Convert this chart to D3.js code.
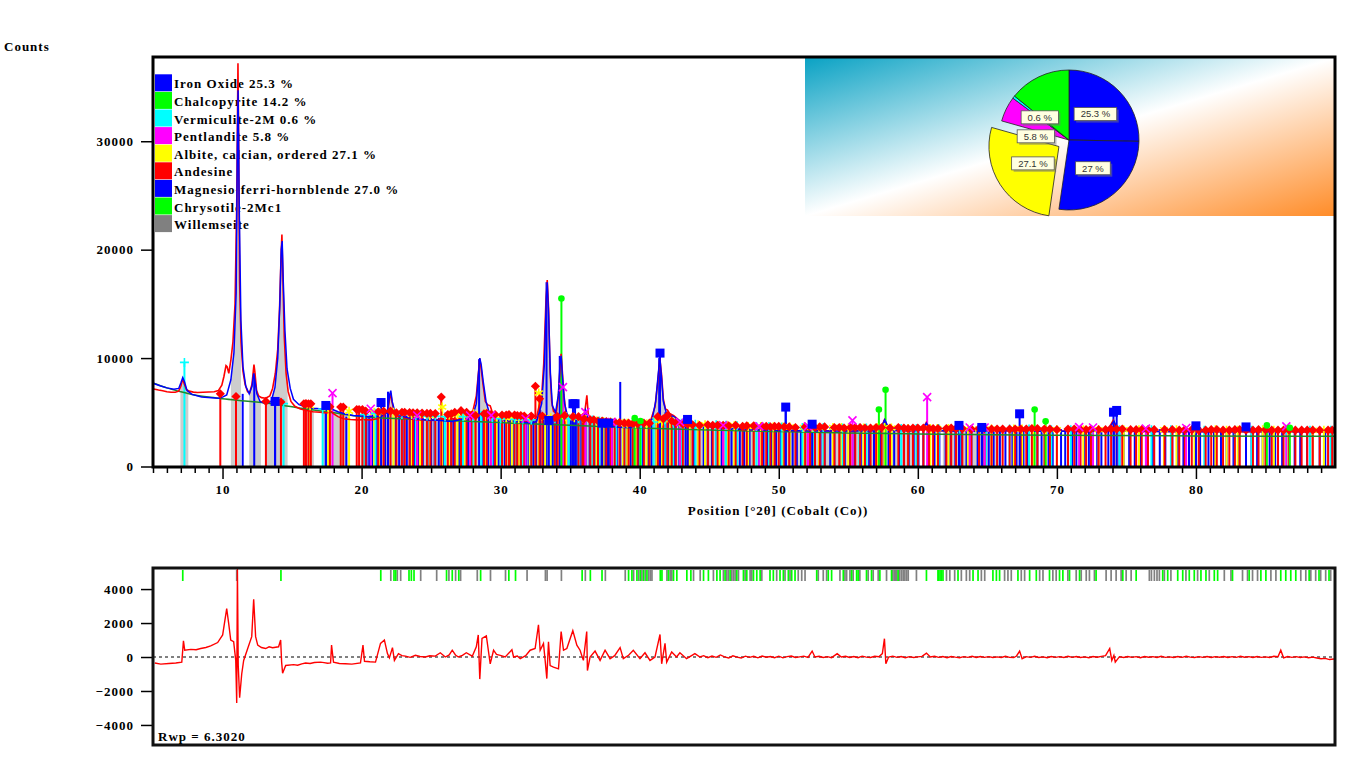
<!DOCTYPE html>
<html>
<head>
<meta charset="utf-8">
<script src="https://cdnjs.cloudflare.com/ajax/libs/d3/7.8.5/d3.min.js"></script>
<style>
  body { margin: 0; background: #fff; }
  .serif { font-family: "Liberation Serif", "Times New Roman", serif; font-weight: bold; font-size: 13px; letter-spacing: 1px; }
</style>
</head>
<body>
<svg id="chart" width="1366" height="768"></svg>
<script>
// ---- legend / quantification ----
const phaseNames = ['Iron Oxide 25.3 %', 'Chalcopyrite 14.2 %', 'Vermiculite-2M 0.6 %', 'Pentlandite 5.8 %',
  'Albite, calcian, ordered 27.1 %', 'Andesine', 'Magnesio-ferri-hornblende 27.0 %', 'Chrysotile-2Mc1', 'Willemseite'];
const phaseColors = ['#0000ff', '#00ff00', '#00ffff', '#ff00ff', '#ffff00', '#ff0000', '#0000ff', '#00ff00', '#808080'];

const pieValues = [25.3, 27.0, 27.1, 5.8, 0.6, 14.2];
const pieLabels = ['25.3 %', '27 %', '27.1 %', '5.8 %', '0.6 %', ''];
const pieColors = ['#0000ff', '#0000ff', '#ffff00', '#ff00ff', '#00ffff', '#00ff00'];
const explodedSlice = 2;

// ---- axes ----
const countTicks = [0, 10000, 20000, 30000];
const diffTicks = [-4000, -2000, 0, 2000, 4000];
const positionTicks = [10, 20, 30, 40, 50, 60, 70, 80];

// ---- profiles [2theta, counts] ----
const obsProfile = [[5.05,7150],[5.4,7050],[5.7,6980],[6.0,6900],[6.3,6850],[6.6,6850],[6.85,6950],[7.0,7400],[7.1,7900],[7.16,8000],[7.25,7600],[7.4,7100],[7.6,6950],[7.9,6860],[8.2,6830],[8.6,6850],[9.0,6870],[9.4,6900],[9.7,7000],[9.95,7500],[10.1,8300],[10.25,9300],[10.33,9200],[10.45,8600],[10.6,9800],[10.75,11500],[10.9,15000],[11.02,24000],[11.11,37200],[11.16,30000],[11.23,17000],[11.33,11500],[11.47,8800],[11.62,7600],[11.8,6900],[11.95,6800],[12.12,7600],[12.26,9400],[12.32,8800],[12.45,7000],[12.6,6500],[12.8,6350],[13.1,6300],[13.4,6500],[13.6,7200],[13.8,8600],[13.97,10800],[14.1,14500],[14.2,19000],[14.27,21400],[14.34,17500],[14.44,12000],[14.57,8600],[14.72,6900],[14.92,6000],[15.2,5550],[15.6,5300],[16.0,5180],[16.5,5050],[17.0,5000],[17.5,4950],[17.8,5100],[17.95,4900],[18.3,4600],[18.7,4400],[19.2,4330],[19.7,4300],[20.05,4320],[20.12,4600],[20.22,4320],[20.7,4300],[21.1,4400],[21.4,4700],[21.65,4750],[21.9,5200],[22.03,6400],[22.1,6750],[22.18,6000],[22.35,5000],[22.6,4650],[23.0,4500],[23.5,4400],[24.0,4320],[24.5,4300],[25.0,4250],[25.5,4300],[25.7,4450],[26.0,4280],[26.5,4420],[26.8,4350],[27.2,4500],[27.6,4600],[28.0,5100],[28.25,6500],[28.4,8600],[28.5,9950],[28.6,9000],[28.75,7400],[28.9,6000],[29.05,5700],[29.25,5600],[29.45,4800],[29.65,4600],[30.0,4400],[30.5,4250],[31.0,4300],[31.5,4150],[32.0,4150],[32.4,4300],[32.6,4600],[32.75,5500],[32.95,6500],[33.1,9500],[33.25,15000],[33.35,17200],[33.45,14500],[33.55,9000],[33.67,6000],[33.8,5100],[34.0,4900],[34.15,6500],[34.27,9000],[34.35,10400],[34.45,8500],[34.55,6600],[34.7,4900],[34.95,4600],[35.2,4450],[35.5,4500],[35.8,4600],[36.05,5000],[36.2,6560],[36.3,4800],[36.5,4400],[36.9,4250],[37.2,4100],[37.6,3900],[38.0,3720],[38.5,3650],[39.0,3640],[39.5,3700],[40.0,3800],[40.4,3900],[40.8,4300],[41.1,5500],[41.3,7800],[41.45,9950],[41.57,8500],[41.7,6200],[41.85,5300],[42.0,5200],[42.15,4900],[42.45,4700],[42.8,4300],[43.2,4000],[43.7,3850],[44.3,3780],[45.0,3700],[45.5,3650],[46.0,3520],[46.5,3560],[47.0,3450],[47.5,3400],[48.0,3420],[48.5,3380],[49.0,3400],[49.5,3360],[50.0,3350],[50.4,3450],[50.7,3350],[51.2,3300],[52.0,3340],[52.45,3420],[53.0,3300],[54.0,3290],[54.25,3380],[55.0,3280],[56.0,3300],[56.8,3320],[57.35,3600],[57.6,4300],[57.75,3900],[58.0,3400],[58.5,3300],[59.5,3280],[60.35,3400],[60.6,4050],[60.8,3500],[61.2,3300],[62.0,3290],[63.0,3270],[64.0,3280],[65.0,3260],[66.0,3270],[67.0,3300],[67.35,3500],[67.55,3300],[68.5,3260],[69.5,3250],[70.5,3260],[71.5,3240],[72.5,3250],[73.5,3300],[73.85,3800],[74.05,4250],[74.25,3600],[74.6,3300],[75.5,3250],[76.5,3230],[77.5,3240],[78.5,3220],[79.5,3230],[80.5,3220],[81.5,3210],[82.5,3220],[83.5,3200],[84.5,3210],[85.5,3200],[86.1,3400],[86.3,3220],[87.0,3200],[88.0,3190],[89.0,3180],[90.0,3150]];

const calcProfile = [[5.05,7650],[5.5,7450],[6.0,7250],[6.5,7120],[6.85,7200],[7.0,7700],[7.14,8200],[7.27,7800],[7.45,7000],[7.8,6650],[8.5,6420],[9.2,6350],[9.7,6300],[10.0,6400],[10.3,6600],[10.6,8000],[10.82,10500],[10.98,16000],[11.07,30000],[11.12,34700],[11.19,25000],[11.32,13500],[11.47,9200],[11.67,7400],[11.92,6700],[12.12,7400],[12.24,8600],[12.32,8000],[12.47,6700],[12.7,6000],[13.1,5800],[13.5,6000],[13.77,7300],[13.97,10000],[14.12,15000],[14.22,20000],[14.29,20800],[14.37,17000],[14.49,12500],[14.64,9000],[14.87,7200],[15.1,6200],[15.5,5700],[16.0,5480],[16.5,5380],[17.0,5320],[17.5,5250],[17.85,5300],[18.3,5050],[18.8,4850],[19.4,4700],[20.0,4650],[20.5,4600],[21.0,4650],[21.4,4600],[21.85,5000],[22.03,6700],[22.1,7000],[22.2,6000],[22.4,5000],[22.75,4700],[23.5,4450],[24.5,4320],[25.5,4270],[26.5,4150],[27.2,4350],[27.6,4450],[28.0,4700],[28.25,5800],[28.4,8500],[28.5,10000],[28.6,9400],[28.75,7800],[28.95,6000],[29.15,5100],[29.45,4900],[29.85,4400],[30.5,4230],[31.5,4100],[32.3,4000],[32.6,4200],[32.95,5800],[33.15,9500],[33.28,15500],[33.35,17000],[33.45,14000],[33.58,8500],[33.72,5600],[33.95,5000],[34.15,6600],[34.27,9500],[34.35,10200],[34.45,8200],[34.6,5800],[34.8,4700],[35.1,4350],[35.5,4250],[36.0,4700],[36.1,5200],[36.25,4500],[36.6,4250],[37.2,4000],[37.8,3750],[38.5,3620],[39.3,3600],[40.0,3750],[40.5,3900],[40.9,4400],[41.15,6000],[41.33,8500],[41.45,10000],[41.57,8200],[41.7,6000],[41.9,5000],[42.15,4800],[42.5,4550],[43.0,4100],[43.5,3880],[44.3,3760],[45.5,3620],[47.0,3450],[48.5,3370],[50.0,3330],[51.5,3290],[53.0,3280],[55.0,3270],[56.8,3290],[57.35,3500],[57.62,4300],[57.85,3700],[58.3,3350],[60.0,3290],[60.45,3700],[60.62,4000],[60.85,3400],[62.0,3280],[65.0,3250],[67.2,3350],[67.4,3400],[67.7,3260],[70.0,3240],[73.6,3300],[73.9,3800],[74.1,4200],[74.35,3500],[74.8,3260],[78.0,3230],[82.0,3210],[86.0,3230],[86.2,3350],[86.4,3210],[90.0,3250]];

const backgroundLine = [[5.0,7700],[6,7250],[7,6900],[8,6600],[9,6400],[10,6250],[12,6000],[14,5700],[16,5300],[18,4950],[20,4600],[22,4450],[25,4300],[28,4150],[30,4050],[35,3800],[40,3560],[45,3370],[50,3220],[55,3100],[60,3000],[70,2880],[80,2820],[90,2780]];

const diffProfile = [[5.13,-350],[5.56,-420],[6.14,-380],[6.64,-350],[7.07,-300],[7.19,950],[7.28,400],[7.72,450],[8.1,430],[8.43,500],[8.8,560],[9.15,650],[9.65,850],[10.01,1300],[10.3,2850],[10.44,2000],[10.59,1000],[10.8,900],[10.95,-200],[11.02,-2700],[11.07,5200],[11.13,-500],[11.23,-2400],[11.38,-1000],[11.52,-200],[11.81,500],[12.1,1200],[12.24,3400],[12.38,1200],[12.53,700],[12.8,560],[13.1,500],[13.35,600],[13.6,550],[14.03,600],[14.18,1000],[14.25,-300],[14.32,-950],[14.54,-500],[15.11,-450],[15.4,-480],[15.7,-400],[15.97,-350],[16.3,-380],[16.6,-320],[17.05,-300],[17.3,-330],[17.55,-370],[17.77,-350],[17.84,700],[17.98,-300],[18.4,-380],[18.84,-400],[19.3,-420],[19.92,-350],[20.1,700],[20.21,-250],[20.6,-280],[21.0,-300],[21.36,800],[21.64,1000],[21.86,200],[22.0,-50],[22.22,550],[22.36,-200],[22.65,200],[22.9,80],[23.15,50],[23.5,-20],[23.87,100],[24.2,30],[24.59,0],[24.9,70],[25.3,50],[25.66,250],[26.02,0],[26.3,120],[26.52,400],[26.75,120],[26.96,0],[27.25,100],[27.53,250],[27.96,50],[28.25,600],[28.39,1300],[28.5,-1300],[28.66,1100],[28.97,1250],[29.25,-400],[29.49,400],[29.7,150],[29.97,100],[30.33,0],[30.81,430],[30.93,0],[31.2,60],[31.41,-100],[31.8,80],[32.12,400],[32.48,500],[32.72,1900],[32.84,400],[33.08,800],[33.2,-200],[33.32,-1270],[33.44,900],[33.56,-500],[33.8,-600],[34.16,-700],[34.35,1500],[34.52,400],[34.76,500],[35.19,1550],[35.48,700],[35.71,400],[35.95,-200],[36.19,1500],[36.24,-800],[36.43,0],[36.79,350],[37.15,-200],[37.51,400],[37.87,-100],[38.2,80],[38.59,550],[38.82,-100],[39.2,100],[39.54,400],[40.02,-100],[40.38,250],[40.74,-200],[41.1,0],[41.46,1330],[41.58,-400],[41.82,800],[41.94,-300],[42.3,300],[42.65,0],[42.89,250],[43.37,-100],[43.97,200],[44.33,0],[44.6,80],[44.9,-40],[45.2,60],[45.5,-20],[45.8,120],[46.1,10],[46.4,-60],[46.7,70],[47.0,-10],[47.3,-60],[47.6,50],[47.9,-20],[48.2,40],[48.5,-50],[48.8,60],[49.1,-10],[49.4,30],[49.7,-40],[50.0,50],[50.3,-50],[50.6,20],[50.9,60],[51.2,-30],[51.5,10],[51.8,50],[52.1,-20],[52.4,350],[52.6,0],[52.9,40],[53.2,-30],[53.5,20],[53.8,-40],[54.2,200],[54.5,0],[54.8,40],[55.1,-30],[55.4,30],[55.7,-40],[56.0,50],[56.3,-10],[56.6,-30],[56.9,40],[57.2,20],[57.45,200],[57.6,1080],[57.7,-400],[57.9,0],[58.2,50],[58.5,-20],[58.8,30],[59.1,-40],[59.4,20],[59.7,-30],[60.0,10],[60.3,40],[60.62,230],[60.9,0],[61.2,40],[61.5,-20],[61.8,30],[62.1,-40],[62.4,30],[62.7,-10],[63.0,-40],[63.3,20],[63.6,-20],[63.9,40],[64.2,-30],[64.5,30],[64.8,-20],[65.1,20],[65.4,-30],[65.7,10],[66.0,-30],[66.3,40],[66.6,-20],[66.9,-30],[67.1,60],[67.32,350],[67.5,-100],[67.8,20],[68.1,-20],[68.4,40],[68.7,-30],[69.0,10],[69.3,-40],[69.6,30],[69.9,-20],[70.2,20],[70.5,-30],[70.8,40],[71.1,-20],[71.4,30],[71.7,-30],[72.0,10],[72.3,-40],[72.6,30],[72.9,-10],[73.2,40],[73.5,80],[73.8,500],[73.95,-200],[74.1,100],[74.2,-300],[74.5,20],[74.8,-30],[75.1,30],[75.4,-20],[75.7,20],[76.0,-40],[76.3,30],[76.6,-10],[76.9,20],[77.2,-30],[77.5,40],[77.8,-20],[78.1,10],[78.4,-30],[78.7,30],[79.0,-20],[79.3,40],[79.6,-10],[79.9,-30],[80.2,20],[80.5,-20],[80.8,30],[81.1,-30],[81.4,20],[81.7,-10],[82.0,30],[82.3,-30],[82.6,20],[82.9,-20],[83.2,40],[83.5,-10],[83.8,20],[84.1,-30],[84.4,30],[84.7,-20],[85.0,10],[85.3,-30],[85.6,40],[85.9,20],[86.1,400],[86.3,-50],[86.6,30],[86.9,-20],[87.2,20],[87.5,-30],[87.8,10],[88.1,-40],[88.4,-10],[88.7,-60],[89.0,-100],[89.3,-80],[89.6,-150],[89.94,-120]];

// ---- reference sticks [2theta, counts] ----
const ironOxideSticks = [[13.78,6000],[17.43,5630],[21.4,5900],[33.46,4250],[35.2,5790],[35.35,5790],[37.3,4000],[37.76,4000],[41.46,10460],[43.44,4340],[50.5,5480],[52.4,3900],[62.96,3790],[64.6,3600],[67.32,4860],[74.07,5010],[74.3,5170],[80.0,3750],[83.6,3650]];
const chalcopyriteSticks = [[34.37,15500],[39.64,4460],[40.05,4200],[57.2,5260],[57.68,7080],[68.4,5260],[69.19,4180],[85.1,3790],[86.75,3570]];
const vermiculiteSticks = [[7.26,9600],[14.39,5800],[17.2,5300],[20.2,4800],[21.0,4900],[22.9,4800],[23.9,4700],[24.7,4650],[25.3,4650],[26.0,4600],[27.3,4600],[28.0,4600],[28.6,4700],[29.4,4500],[30.0,4400],[31.0,4350],[31.6,4350],[32.2,4300],[33.9,4400],[34.9,4400],[35.6,4400],[36.6,4300],[37.1,4200],[38.3,4000],[38.9,4000],[39.5,3950],[40.1,3950],[41.0,4100],[41.8,4300],[42.4,4100],[43.0,4000],[44.0,3900],[45.5,3850],[46.2,3800],[47.0,3750],[48.4,3700],[49.3,3700],[50.2,3650],[51.7,3600],[52.5,3600],[53.2,3600],[54.6,3550],[55.8,3550],[56.3,3550],[58.8,3500],[59.9,3500],[61.5,3500],[63.0,3450],[64.9,3450],[66.6,3450],[68.0,3450],[69.6,3400],[71.0,3400],[72.5,3400],[74.5,3400],[76.8,3400],[78.2,3400],[80.6,3350],[82.8,3350],[84.0,3350],[86.5,3350],[88.2,3350],[89.7,3350]];
const pentlanditeSticks = [[17.91,6770],[20.66,5330],[24.0,4700],[27.8,4700],[29.32,4710],[31.8,4400],[34.48,7320],[36.09,5010],[38.0,4100],[42.9,4100],[46.0,3800],[48.6,3700],[52.1,3700],[55.3,4250],[60.67,6400],[63.73,3600],[64.8,3600],[71.6,3630],[72.6,3600],[76.4,3500],[79.3,3550],[86.5,3700]];
const albiteSticks = [[16.3,5600],[17.6,5400],[19.1,5100],[20.9,5000],[21.3,5000],[22.3,5000],[23.6,4800],[24.2,4750],[24.9,4700],[25.8,5480],[26.3,4750],[26.9,4800],[27.4,4700],[28.07,4860],[28.9,4900],[29.7,4600],[30.4,4500],[30.8,4500],[31.3,4400],[32.1,4500],[32.74,6770],[33.2,4500],[33.6,4500],[34.7,4600],[35.3,4500],[35.9,4500],[36.9,4200],[37.4,4150],[37.9,4100],[38.8,4000],[39.1,4000],[39.7,3950],[40.5,3950],[41.2,4300],[41.6,4200],[42.2,4300],[43.1,3950],[43.6,3900],[44.2,3850],[44.7,3850],[45.7,3800],[46.3,3800],[46.8,3750],[47.8,3700],[48.2,3700],[48.7,3700],[49.6,3650],[50.3,3650],[50.8,3650],[51.8,3600],[52.4,3600],[52.9,3600],[53.9,3600],[54.5,3600],[55.0,3550],[56.1,3550],[57.1,3600],[57.6,3600],[58.1,3550],[59.3,3500],[60.9,3500],[61.4,3500],[62.2,3500],[63.6,3450],[64.4,3450],[65.3,3450],[66.9,3450],[67.5,3450],[68.3,3450],[69.2,3400],[70.0,3400],[71.9,3400],[73.0,3400],[74.8,3400],[75.9,3400],[77.7,3400],[78.6,3400],[79.9,3400],[81.4,3400],[82.2,3350],[83.0,3350],[84.8,3400],[85.6,3350],[86.6,3350],[88.4,3350],[89.2,3350]];
const andesineSticks = [[9.84,6700],[10.97,6460],[13.12,6000],[14.2,5950],[15.85,5790],[16.0,5800],[16.18,5790],[16.35,5780],[17.72,5500],[18.5,5480],[18.68,5480],[19.65,5260],[19.82,5260],[20.06,5260],[20.3,5100],[21.2,5050],[21.58,5100],[22.08,5100],[22.5,4950],[22.9,5000],[23.1,5000],[23.45,4980],[23.7,4960],[24.0,4950],[24.35,4930],[24.7,4900],[24.95,4900],[25.3,4880],[25.73,6400],[26.2,4800],[26.45,4850],[26.7,5000],[27.15,5150],[27.55,5000],[27.9,4750],[28.2,4700],[28.8,4850],[29.0,4900],[29.3,4800],[29.6,4800],[30.1,4750],[30.4,4750],[30.6,4800],[31.0,4750],[31.2,4700],[31.45,4700],[31.7,4650],[32.2,4650],[32.5,7400],[32.8,6250],[33.0,4650],[33.9,4500],[34.1,4600],[34.6,4700],[35.2,4600],[35.6,4600],[35.9,4500],[36.0,4400],[36.45,4300],[36.7,4300],[37.0,4200],[37.3,4200],[37.6,4150],[37.9,4100],[38.2,4100],[38.55,4050],[38.9,4000],[39.2,4000],[39.5,3950],[39.85,3950],[40.3,4000],[40.7,4000],[41.3,4600],[41.7,4400],[42.0,4700],[42.3,4200],[42.6,4000],[43.1,3900],[43.45,3900],[43.8,3850],[44.3,3800],[44.9,3850],[45.25,3800],[45.6,3800],[46.0,3800],[46.4,3750],[46.9,3800],[47.4,3700],[47.7,3750],[48.2,3750],[48.8,3700],[49.1,3700],[49.4,3650],[49.7,3700],[50.0,3700],[50.4,3650],[50.75,3650],[51.2,3600],[51.9,3650],[52.25,3650],[52.6,3600],[52.95,3650],[53.3,3650],[54.0,3600],[54.35,3600],[54.7,3550],[55.15,3600],[55.5,3600],[55.85,3600],[56.2,3550],[56.6,3550],[57.0,3600],[57.4,3600],[58.0,3550],[58.6,3600],[59.0,3550],[59.3,3500],[59.65,3550],[60.0,3550],[60.4,3550],[60.8,3500],[61.1,3500],[61.45,3500],[62.05,3500],[62.4,3550],[62.75,3500],[63.2,3500],[63.85,3450],[64.4,3500],[64.8,3500],[65.3,3450],[65.7,3450],[66.1,3450],[66.6,3450],[67.0,3450],[67.4,3450],[67.8,3450],[68.2,3500],[68.6,3500],[69.1,3450],[69.5,3450],[70.0,3400],[70.8,3450],[71.25,3450],[71.7,3400],[72.1,3400],[72.45,3450],[73.0,3400],[73.5,3400],[73.9,3450],[74.3,3450],[74.7,3450],[75.3,3400],[75.7,3400],[76.1,3400],[76.55,3400],[77.0,3400],[77.75,3400],[78.3,3400],[78.8,3350],[79.2,3400],[79.7,3400],[80.2,3350],[80.7,3350],[81.1,3400],[81.5,3400],[81.95,3350],[82.4,3350],[82.8,3400],[83.15,3400],[83.6,3350],[84.1,3350],[84.5,3400],[85.0,3400],[85.45,3350],[85.9,3350],[86.3,3350],[86.7,3350],[87.15,3350],[87.6,3350],[88.0,3350],[88.4,3350],[88.9,3350],[89.5,3350],[89.8,3350]];
const hornblendeSticks = [[11.45,6700],[12.28,8600],[13.78,5900],[17.43,5400],[18.9,4600],[20.35,4700],[20.55,4700],[20.8,4800],[21.05,4750],[21.2,4800],[21.7,4800],[21.9,6900],[22.45,4800],[22.7,4800],[22.95,4700],[23.25,4700],[23.55,4650],[23.8,4600],[24.1,4600],[24.4,4550],[24.75,4550],[25.0,4500],[25.25,4500],[25.55,4500],[25.85,4500],[26.35,4450],[26.6,4450],[27.0,4450],[27.3,4450],[27.65,4500],[27.9,4500],[28.15,4600],[28.45,9900],[28.75,5000],[29.1,4800],[29.5,4500],[29.85,4400],[30.1,4400],[30.3,4350],[30.7,4350],[30.95,4400],[31.2,4350],[31.55,4300],[31.85,4300],[32.05,4250],[32.35,4300],[32.55,4400],[32.85,5200],[33.1,4400],[33.3,17000],[33.6,4400],[33.75,4400],[34.05,4500],[34.25,10200],[34.65,4400],[34.9,4500],[35.05,4400],[35.35,4400],[35.5,4350],[35.8,4300],[36.1,5200],[36.4,4200],[36.75,4100],[37.0,4050],[37.25,4050],[37.5,4000],[37.65,4000],[37.8,4000],[38.0,4000],[38.35,3950],[38.6,7800],[38.85,3900],[39.1,3900],[39.35,3850],[39.65,3850],[39.9,3800],[40.2,3850],[40.6,3900],[40.85,3900],[41.2,4300],[41.4,10000],[41.7,4400],[41.85,5000],[42.05,4400],[42.25,4700],[42.55,4300],[42.85,4200],[43.05,4000],[43.3,4300],[43.6,3900],[43.9,3850],[44.2,3850],[44.6,3800],[44.9,3800],[45.2,3750],[45.5,3800],[45.9,3700],[46.2,3750],[46.6,3700],[46.9,3700],[47.2,3650],[47.5,3700],[47.9,3650],[48.2,3650],[48.6,3600],[48.9,3650],[49.2,3600],[49.5,3650],[49.8,3600],[50.15,3650],[50.5,5400],[50.8,3600],[51.0,3550],[51.3,3600],[51.6,3550],[51.9,3600],[52.3,3800],[52.6,3600],[53.0,3600],[53.3,3550],[53.7,3600],[54.0,3550],[54.4,3600],[54.75,3550],[55.1,3600],[55.45,3550],[55.9,3550],[56.2,3500],[56.5,3550],[56.85,3500],[57.3,3700],[57.6,4300],[57.9,3500],[58.3,3550],[58.65,3500],[59.0,3550],[59.35,3500],[59.7,3550],[60.05,3500],[60.4,3550],[60.75,3500],[61.2,3550],[61.55,3500],[62.0,3550],[62.35,3500],[62.7,3550],[63.1,3500],[63.5,3550],[63.85,3500],[64.3,3500],[64.65,3450],[65.1,3500],[65.45,3450],[65.9,3500],[66.3,3450],[66.8,3500],[67.1,3450],[67.6,3500],[67.9,3450],[68.35,3450],[68.6,3500],[68.9,3450],[69.4,3500],[69.7,3450],[70.3,3450],[70.6,3450],[71.1,3450],[71.4,3450],[72.0,3450],[72.3,3400],[72.9,3450],[73.2,3400],[73.7,3450],[74.1,4200],[74.5,3400],[74.8,3450],[75.2,3400],[75.6,3450],[76.0,3400],[76.5,3450],[76.9,3400],[77.4,3450],[77.8,3400],[78.3,3450],[78.7,3400],[79.1,3450],[79.5,3400],[80.0,3650],[80.3,3600],[80.9,3450],[81.3,3400],[81.8,3450],[82.2,3400],[82.7,3450],[83.1,3400],[83.6,3550],[84.0,3400],[84.4,3450],[84.8,3400],[85.3,3450],[85.7,3400],[86.2,3450],[86.6,3400],[87.1,3400],[87.5,3400],[88.0,3400],[88.4,3400],[88.9,3400],[89.3,3400],[89.7,3400]];

// tick rows in the difference panel
const chrysotileTicks = [7.14,14.2,21.38,22.33,22.45,23.41,23.58,23.77,26.11,26.52,26.99,28.56,30.59,31.07,35.86,36.45,37.29,39.2,39.44,39.8,40.04,40.28,40.52,41.48,41.6,42.07,42.43,42.67,43.39,43.68,44.59,44.94,45.55,45.78,46.14,46.5,46.98,47.46,47.7,48.18,48.42,48.66,49.37,49.61,50.09,50.33,50.69,50.93,51.17,52.73,53.56,53.8,54.64,55.24,55.6,55.71,56.31,56.67,57.27,58.11,58.58,60.62,61.45,61.5,61.6,61.7,61.81,62.89,63.97,64.33,65.4,65.65,65.88,67.2,68.04,68.52,69.47,70.19,70.43,70.91,71.63,72.82,74.74,75.7,77.61,77.97,78.69,79.05,79.52,79.88,80.36,80.72,81.32,81.56,82.63,83.83,84.67,85.03,86.1,86.46,86.82,87.18,88.14,88.85,89.57];
const willemseiteTicks = [11.02,22.1,22.57,22.81,24.25,25.4,26.28,26.76,27.12,28.32,29.27,30.35,31.9,33.22,33.34,34.37,36.09,37.53,38.96,39.56,39.92,40.16,40.4,40.64,40.76,40.88,41.96,42.19,42.31,43.87,44.35,45.3,46.02,46.26,46.38,46.62,46.74,46.86,47.1,47.58,47.94,48.06,48.78,49.85,50.45,50.81,51.4,51.65,51.89,52.84,53.2,53.44,54.4,54.76,54.88,55.12,55.35,55.83,56.43,56.79,57.15,57.75,58.2,58.3,58.4,58.47,58.6,58.7,58.83,58.95,59.07,59.2,59.31,59.9,62.06,62.3,62.65,63.13,63.49,63.73,64.57,64.81,66.24,66.48,66.72,67.44,67.68,68.76,69.0,69.71,69.95,70.79,71.39,71.75,72.11,72.34,72.7,73.54,73.9,74.26,74.62,74.98,75.34,76.65,76.8,77.01,77.2,77.37,77.73,78.2,79.28,80.12,80.96,82.04,82.52,83.35,83.71,84.07,84.43,85.39,85.75,87.54,87.9,88.26,88.61,88.97,89.33,89.69];

// 2theta ranges shaded grey under the calculated profile
const shadeBands = [[6.97,7.54],[10.6,11.33],[11.92,12.76],[13.12,14.68],[15.85,16.57],[17.19,19.0],[19.94,60.0],[61.8,66.0]];

// ---------------------------------------------------------------
const svg = d3.select('#chart');
const plot = { left: 153, right: 1335, top: 57, bottom: 467 };
const diffBox = { top: 568, bottom: 745 };

const x = d3.scaleLinear().domain([5.0, 90.0]).range([plot.left, plot.right]);
const y = d3.scaleLinear().domain([0, 37770]).range([466.5, plot.top]);
const yd = d3.scaleLinear().domain([-5180, 5240]).range([diffBox.bottom, diffBox.top]);

const defs = svg.append('defs');
defs.append('clipPath').attr('id', 'mainClip').append('rect')
  .attr('x', plot.left).attr('y', plot.top).attr('width', plot.right - plot.left).attr('height', plot.bottom - plot.top);
defs.append('clipPath').attr('id', 'diffClip').append('rect')
  .attr('x', plot.left).attr('y', diffBox.top).attr('width', plot.right - plot.left).attr('height', diffBox.bottom - diffBox.top);
defs.append('clipPath').attr('id', 'shadeClip').selectAll('rect')
  .data(shadeBands).enter().append('rect')
  .attr('x', d => x(d[0])).attr('width', d => x(d[1]) - x(d[0]))
  .attr('y', plot.top).attr('height', plot.bottom - plot.top);
const grad = defs.append('linearGradient').attr('id', 'pieBg')
  .attr('x1', 0).attr('y1', 0).attr('x2', 1).attr('y2', 1);
grad.append('stop').attr('offset', '0%').attr('stop-color', '#0aa2c4');
grad.append('stop').attr('offset', '50%').attr('stop-color', '#ffffff');
grad.append('stop').attr('offset', '100%').attr('stop-color', '#ff8c28');

// "Counts"
svg.append('text').attr('class', 'serif').attr('x', 4).attr('y', 51).text('Counts');

// legend (peaks are drawn over it)
const legend = svg.append('g');
phaseNames.forEach((name, i) => {
  legend.append('rect').attr('x', 155).attr('y', 74.3 + i * 17.6).attr('width', 17).attr('height', 17)
    .attr('fill', phaseColors[i]);
  legend.append('text').attr('class', 'serif').attr('x', 174).attr('y', 88.3 + i * 17.6).text(name);
});

// ---- main plot ----
const main = svg.append('g').attr('clip-path', 'url(#mainClip)');

const area = d3.area().x(d => x(d[0])).y0(y(0)).y1(d => y(d[1]));
main.append('g').attr('clip-path', 'url(#shadeClip)')
  .append('path').datum(calcProfile).attr('d', area).attr('fill', '#cdcdcd');

const phases = [
  { data: hornblendeSticks, color: '#0000ff', marker: null },
  { data: albiteSticks, color: '#ffff00', marker: 'star' },
  { data: vermiculiteSticks, color: '#00ffff', marker: 'plus' },
  { data: andesineSticks, color: '#ff0000', marker: 'diamond' },
  { data: pentlanditeSticks, color: '#ff00ff', marker: 'cross' },
  { data: ironOxideSticks, color: '#0000ff', marker: 'square' },
  { data: chalcopyriteSticks, color: '#00ff00', marker: 'circle' }
];

phases.forEach(p => {
  main.append('g').selectAll('line').data(p.data).enter().append('line')
    .attr('x1', d => x(d[0])).attr('x2', d => x(d[0]))
    .attr('y1', y(0)).attr('y2', d => y(d[1]))
    .attr('stroke', p.color).attr('stroke-width', 2);
});

const line = d3.line().x(d => x(d[0])).y(d => y(d[1]));
main.append('path').datum(backgroundLine)
  .attr('d', line.curve(d3.curveMonotoneX)).attr('fill', 'none').attr('stroke', '#1f8a2a').attr('stroke-width', 1.5);
line.curve(d3.curveLinear);
main.append('path').datum(obsProfile).attr('d', line)
  .attr('fill', 'none').attr('stroke', '#ff0000').attr('stroke-width', 1.6);
main.append('path').datum(calcProfile).attr('d', line)
  .attr('fill', 'none').attr('stroke', '#0000ff').attr('stroke-width', 1.5);

const markerPaths = {
  plus: 'M-4.5,0H4.5M0,-4.5V4.5',
  cross: 'M-4,-4L4,4M-4,4L4,-4',
  star: 'M0,-4.5V4.5M-4,-2.3L4,2.3M-4,2.3L4,-2.3'
};
phases.forEach(p => {
  if (!p.marker) return;
  const g = main.append('g');
  p.data.forEach(d => {
    const cx = x(d[0]), cy = y(d[1]);
    if (p.marker === 'square') {
      g.append('rect').attr('x', cx - 4.5).attr('y', cy - 4.5).attr('width', 9).attr('height', 9).attr('fill', p.color);
    } else if (p.marker === 'diamond') {
      g.append('path').attr('d', d3.symbol(d3.symbolSquare, 42)())
        .attr('transform', `translate(${cx},${cy}) rotate(45)`).attr('fill', p.color);
    } else if (p.marker === 'circle') {
      g.append('circle').attr('cx', cx).attr('cy', cy).attr('r', 3.3).attr('fill', p.color);
    } else {
      g.append('path').attr('d', markerPaths[p.marker]).attr('transform', `translate(${cx},${cy})`)
        .attr('fill', 'none').attr('stroke', p.color).attr('stroke-width', 1.6);
    }
  });
});

// axes of main plot
function styleAxis(g) {
  g.select('.domain').remove();
  g.selectAll('line').attr('stroke', '#000').attr('stroke-width', 1.5);
  g.attr('font-family', null).attr('font-size', null);
  g.selectAll('text').attr('class', 'serif').attr('fill', '#000');
}
svg.append('g').attr('transform', `translate(0,${plot.bottom})`)
  .call(d3.axisBottom(x).tickValues(d3.range(5, 90).filter(v => v % 10 !== 0)).tickSize(6).tickFormat(''))
  .call(styleAxis);
svg.append('g').attr('transform', `translate(0,${plot.bottom})`)
  .call(d3.axisBottom(x).tickValues(positionTicks).tickSize(12).tickPadding(6).tickFormat(d3.format('d')))
  .call(styleAxis);
svg.append('g').attr('transform', `translate(${plot.left},0)`)
  .call(d3.axisLeft(y).tickValues(countTicks).tickSize(12).tickPadding(7).tickFormat(d3.format('d')))
  .call(styleAxis);

svg.append('text').attr('class', 'serif').attr('x', 778).attr('y', 515).attr('text-anchor', 'middle')
  .text('Position [°2θ] (Cobalt (Co))');

// ---- pie inset ----
svg.append('rect').attr('x', 805).attr('y', 58).attr('width', 530).attr('height', 158).attr('fill', 'url(#pieBg)');
const pieArcs = d3.pie().sort(null).value(d => d)(pieValues);
const arc = d3.arc().innerRadius(0).outerRadius(70);
const pieG = svg.append('g').attr('transform', 'translate(1069,140)');
pieArcs.forEach((a, i) => {
  const mid = (a.startAngle + a.endAngle) / 2;
  const off = i === explodedSlice ? 12 : 0;
  a.dx = Math.sin(mid) * off;
  a.dy = -Math.cos(mid) * off;
  pieG.append('path').attr('d', arc(a)).attr('transform', `translate(${a.dx},${a.dy})`)
    .attr('fill', pieColors[i]).attr('stroke', '#222').attr('stroke-width', 0.8);
});
const placed = [];
for (let i = pieArcs.length - 1; i >= 0; i--) {
  if (!pieLabels[i]) continue;
  const a = pieArcs[i];
  const mid = (a.startAngle + a.endAngle) / 2;
  let lx = Math.sin(mid) * 37 + a.dx * 0.5;
  let ly = -Math.cos(mid) * 37 + a.dy * 0.5;
  const g = pieG.append('g');
  const t = g.append('text').attr('text-anchor', 'middle').attr('dy', '0.35em')
    .attr('font-family', '"Liberation Sans", Arial, sans-serif').attr('font-size', 9.5).attr('fill', '#333')
    .text(pieLabels[i]);
  const w = t.node().getComputedTextLength() + 13, h = 13;
  placed.forEach(p => {
    if (Math.abs(p.x - lx) < (p.w + w) / 2 && Math.abs(p.y - ly) < h + 2) ly = p.y + h + 6;
  });
  placed.push({ x: lx, y: ly, w: w });
  g.attr('transform', `translate(${lx},${ly})`);
  g.insert('rect', 'text').attr('x', -w / 2 + 2).attr('y', -h / 2 + 2).attr('width', w).attr('height', h)
    .attr('fill', '#777').attr('opacity', 0.5);
  g.insert('rect', 'text').attr('x', -w / 2).attr('y', -h / 2).attr('width', w).attr('height', h)
    .attr('fill', '#ffffe1').attr('stroke', '#555').attr('stroke-width', 0.8);
}

// main frame
svg.append('rect').attr('x', plot.left).attr('y', plot.top).attr('width', plot.right - plot.left)
  .attr('height', plot.bottom - plot.top).attr('fill', 'none').attr('stroke', '#000').attr('stroke-width', 3);

// ---- difference panel ----
const diffG = svg.append('g').attr('clip-path', 'url(#diffClip)');
diffG.append('line').attr('x1', plot.left).attr('x2', plot.right).attr('y1', yd(0)).attr('y2', yd(0))
  .attr('stroke', '#000').attr('stroke-width', 1).attr('stroke-dasharray', '3,3');
diffG.append('g').selectAll('line').data(willemseiteTicks).enter().append('line')
  .attr('x1', d => x(d)).attr('x2', d => x(d)).attr('y1', 570).attr('y2', 581)
  .attr('stroke', '#808080').attr('stroke-width', 1.7);
diffG.append('g').selectAll('line').data(chrysotileTicks).enter().append('line')
  .attr('x1', d => x(d)).attr('x2', d => x(d)).attr('y1', 570).attr('y2', 581)
  .attr('stroke', '#00ff00').attr('stroke-width', 1.7);
diffG.append('path').datum(diffProfile)
  .attr('d', d3.line().x(d => x(d[0])).y(d => yd(d[1])))
  .attr('fill', 'none').attr('stroke', '#ff0000').attr('stroke-width', 1.4);

svg.append('g').attr('transform', `translate(${plot.left},0)`)
  .call(d3.axisLeft(yd).tickValues(diffTicks).tickSize(12).tickPadding(7).tickFormat(d3.format('d')))
  .call(styleAxis);

svg.append('rect').attr('x', plot.left).attr('y', diffBox.top).attr('width', plot.right - plot.left)
  .attr('height', diffBox.bottom - diffBox.top).attr('fill', 'none').attr('stroke', '#111').attr('stroke-width', 3);

svg.append('text').attr('class', 'serif').attr('x', 158).attr('y', 740.5).text('Rwp = 6.3020');
</script>
</body>
</html>
